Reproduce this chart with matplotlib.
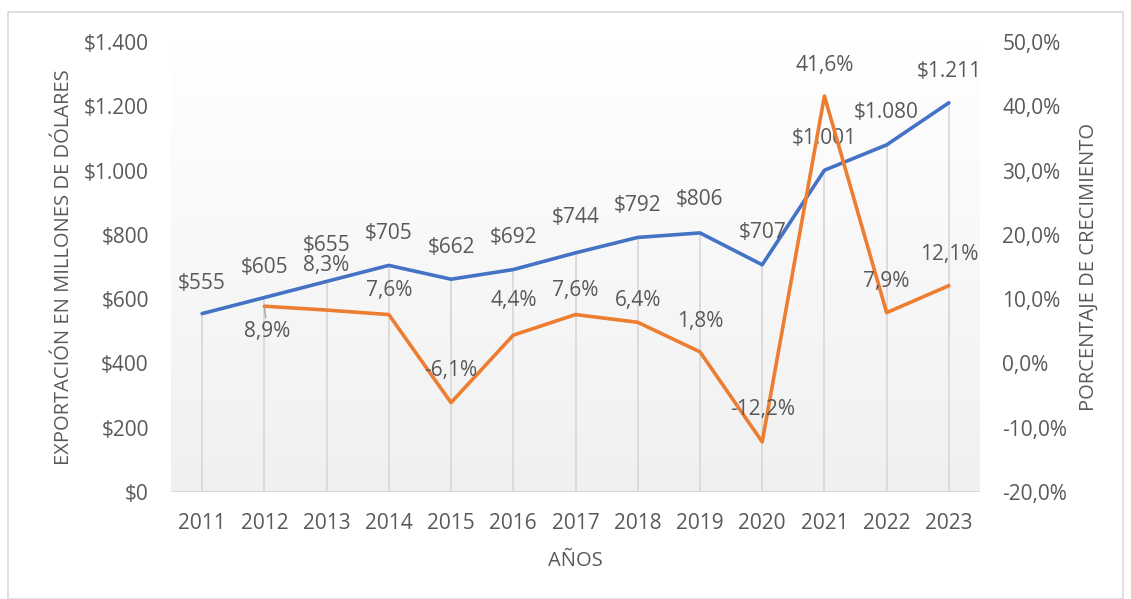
import matplotlib
matplotlib.use("Agg")
import matplotlib.pyplot as plt
import numpy as np
from matplotlib.patches import Rectangle

years = ["2011", "2012", "2013", "2014", "2015", "2016", "2017", "2018", "2019", "2020", "2021", "2022", "2023"]
exports = [555, 605, 655, 705, 662, 692, 744, 792, 806, 707, 1001, 1080, 1211]
growth = [None, 8.9, 8.3, 7.6, -6.1, 4.4, 7.6, 6.4, 1.8, -12.2, 41.6, 7.9, 12.1]
left_ticks = [0, 200, 400, 600, 800, 1000, 1200, 1400]
right_ticks = [-20, -10, 0, 10, 20, 30, 40, 50]

# label offsets in pixels (dx, dy) relative to point
exp_off = [(0, 30), (0, 30), (0, 36), (0, 32), (0, 32), (0, 32), (0, 35), (0, 32), (0, 33), (0, 32), (0, 32), (0, 32), (0, 31)]
gr_off = [None, (3, -25), (0, 45), (0, 24), (0, 32), (0, 35), (0, 24), (0, 22), (0, 30), (0, 32), (0, 31), (0, 31), (0, 31)]

TXT = "#595959"
FS = 15
plt.rcParams["font.family"] = ["Open Sans", "DejaVu Sans"]
fig = plt.figure(figsize=(11.31, 5.99), dpi=100)
W, H = 1131, 599
ax = fig.add_axes([171 / W, 1 - 492 / H, 809 / W, 450 / H])
x = np.arange(len(years))
ax.set_xlim(-0.5, len(years) - 0.5)
ax.set_ylim(0, 1400)

# gradient background
grad = np.linspace(0, 1, 256).reshape(-1, 1)
cmap = matplotlib.colors.LinearSegmentedColormap.from_list("g", ["#f0f0f0", "#ffffff"])
ax.imshow(grad, aspect="auto", cmap=cmap, extent=[-0.5, len(years) - 0.5, 0, 1400], origin="lower", zorder=0)

ax.vlines(x, 0, exports, color="#d9d9d9", lw=1.3, zorder=1)
ax.plot(x, exports, color="#4472C4", lw=2.6, zorder=3, solid_capstyle="round")
for i, v in enumerate(exports):
    lab = "$" + f"{v:,}".replace(",", ".")
    ax.annotate(lab, (x[i], v), xytext=exp_off[i], textcoords="offset pixels", ha="center", va="center",
                fontsize=FS, color=TXT, zorder=5)

for s in ax.spines.values():
    s.set_visible(False)
ax.axhline(0, color="#d9d9d9", lw=1.5, zorder=2)
ax.set_xticks(x)
ax.set_xticklabels(years)
ax.set_yticks(left_ticks)
ax.set_yticklabels(["$" + f"{t:,}".replace(",", ".") for t in left_ticks])
ax.tick_params(length=0, labelsize=FS, colors=TXT)
ax.tick_params(axis="x", pad=15)
ax.tick_params(axis="y", pad=16)
ax.set_xlabel("AÑOS", fontsize=14.5, color=TXT, labelpad=12)
ax.set_ylabel("EXPORTACIÓN EN MILLONES DE DÓLARES", fontsize=14.5, color=TXT, labelpad=7)

ax2 = ax.twinx()
ax2.set_ylim(-20, 50)
gx = [x[i] for i, g in enumerate(growth) if g is not None]
gy = [g for g in growth if g is not None]
ax2.plot(gx, gy, color="#ED7D31", lw=2.6, zorder=4, solid_capstyle="round")
for i, g in enumerate(growth):
    if g is None:
        continue
    lab = f"{g:.1f}%".replace(".", ",")
    if i == 1:
        ax2.annotate(lab, (x[i], g), xytext=gr_off[i], textcoords="offset pixels", ha="center", va="center",
                     fontsize=FS, color=TXT, zorder=5,
                     arrowprops=dict(arrowstyle="-", color="#a6a6a6", lw=1, shrinkA=9, shrinkB=1))
    else:
        ax2.annotate(lab, (x[i], g), xytext=gr_off[i], textcoords="offset pixels", ha="center", va="center",
                     fontsize=FS, color=TXT, zorder=5)
for s in ax2.spines.values():
    s.set_visible(False)
ax2.set_yticks(right_ticks)
ax2.set_yticklabels([f"{t:.1f}%".replace(".", ",") for t in right_ticks])
ax2.tick_params(length=0, labelsize=FS, colors=TXT, pad=16)
ax2.set_ylabel("PORCENTAJE DE CRECIMIENTO", fontsize=14.5, color=TXT, labelpad=8)

fig.patches.append(Rectangle((8 / W, 0), 1115 / W, 1 - 12 / H, transform=fig.transFigure,
                             fill=False, edgecolor="#d9d9d9", lw=1.2))
fig.savefig("out.png", dpi=100)
